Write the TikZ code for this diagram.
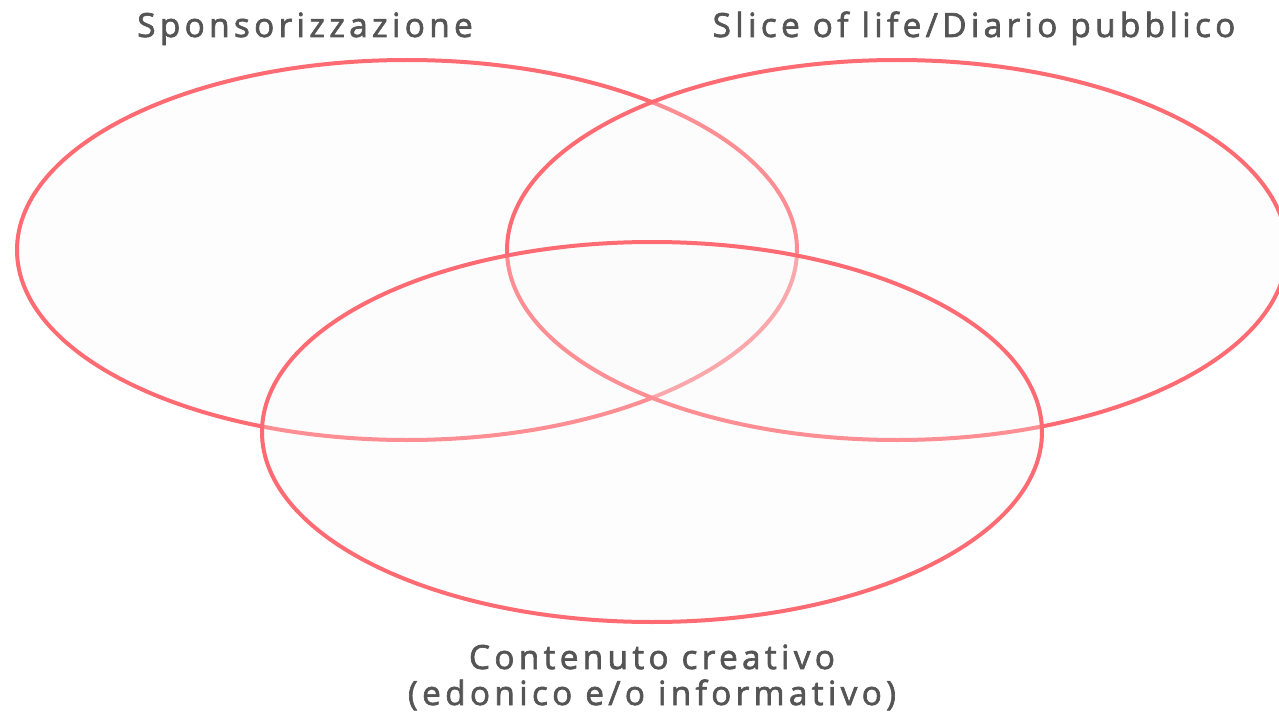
\documentclass[tikz,border=0pt]{standalone}
\usepackage{fontspec}
\setmainfont{Open Sans}
\usetikzlibrary{shapes.geometric}
\definecolor{ring}{HTML}{FF6B73}
\definecolor{ink}{HTML}{555555}
\definecolor{panel}{HTML}{F8F8F8}
\newfontfamily\labelfont[LetterSpace=13,Ligatures=NoCommon,FakeBold=2]{Open Sans}

\begin{document}
\begin{tikzpicture}[
  x=0.75pt, y=-0.75pt,
  set/.style={ellipse, draw=ring, line width=3pt, fill=panel,
    fill opacity=.25, inner sep=0pt, minimum width=585pt, minimum height=285pt},
  title/.style={text=ink, font=\labelfont\fontsize{25}{26}\selectfont,
    inner sep=0pt, anchor=base, align=center}
]
  \useasboundingbox (0,0) rectangle (1279,717);
  \node[set] (sponsor) at (407,250) {};
  \node[set] (slice) at (897,250) {};
  \node[set] (content) at (652,432) {};
  \node[title] (sponsorlabel) at (305,37) {Sponsorizzazione};
  \node[title] (slicelabel) at (974,37) {Slice of life/Diario pubblico};
  \node[title] (contentlabel) at (652,669)
    {Contenuto creativo};
  \node[title] (contentsub) at (652,705)
    {(edonico e/o informativo)};
\end{tikzpicture}
\end{document}
